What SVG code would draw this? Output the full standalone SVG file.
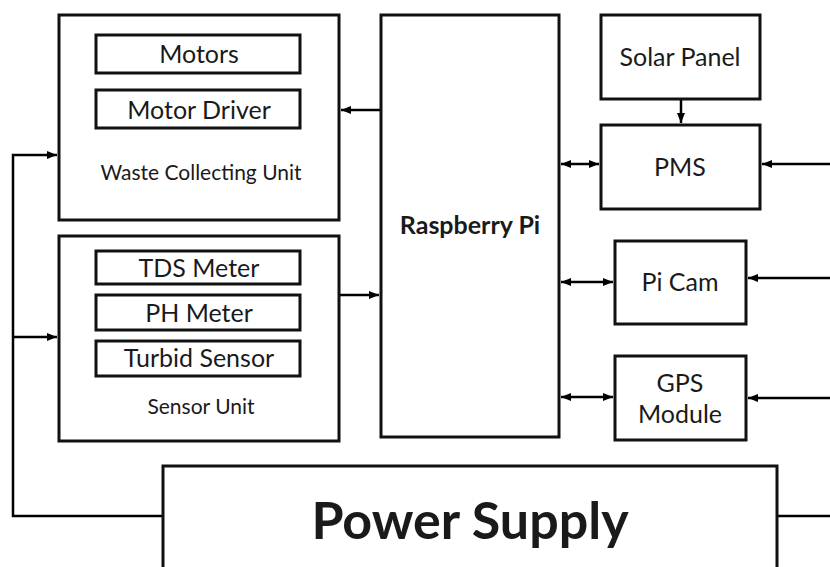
<svg xmlns="http://www.w3.org/2000/svg" width="830" height="567" viewBox="0 0 830 567">
<defs>
<marker id="ah" viewBox="0 0 10 10" refX="10" refY="5" markerWidth="10" markerHeight="10" markerUnits="userSpaceOnUse" orient="auto-start-reverse"><path d="M0,1 L10,5 L0,9 Z" fill="#000"/></marker>
</defs>
<style>
.box{fill:#fff;stroke:#111;stroke-width:3}
.t{font-family:Lato,"Open Sans","Liberation Sans",sans-serif;fill:#1a1a1a;text-anchor:middle}
.l{font-size:25px}
.s{font-size:21px}
.c{fill:none;stroke:#000;stroke-width:2.5}
</style>
<rect width="830" height="567" fill="#fff"/>
<g id="connectors">
<path class="c" d="M163,516 H13 V155 H57" marker-end="url(#ah)"/>
<path class="c" d="M13,337 H57" marker-end="url(#ah)"/>
<path class="c" d="M380,110 H341" marker-end="url(#ah)"/>
<path class="c" d="M340,295 H379" marker-end="url(#ah)"/>
<path class="c" d="M681,100 V123" marker-end="url(#ah)"/>
<path class="c" d="M561,164 H599" marker-start="url(#ah)" marker-end="url(#ah)"/>
<path class="c" d="M561,282 H613" marker-start="url(#ah)" marker-end="url(#ah)"/>
<path class="c" d="M561,397 H613" marker-start="url(#ah)" marker-end="url(#ah)"/>
<path class="c" d="M830,164 H762" marker-end="url(#ah)"/>
<path class="c" d="M830,278 H748" marker-end="url(#ah)"/>
<path class="c" d="M830,398 H748" marker-end="url(#ah)"/>
<path class="c" d="M777,516 H830"/>
</g>
<g id="waste-unit">
<rect class="box" x="59" y="15" width="280" height="205"/>
<text class="t s" x="201" y="180">Waste Collecting Unit</text>
</g>
<g id="motors">
<rect class="box" x="96" y="35" width="204" height="38"/>
<text class="t l" x="199" y="63">Motors</text>
</g>
<g id="motor-driver">
<rect class="box" x="96" y="90" width="204" height="38"/>
<text class="t l" x="199" y="119">Motor Driver</text>
</g>
<g id="sensor-unit">
<rect class="box" x="59" y="236" width="280" height="205"/>
<text class="t s" x="201" y="414">Sensor Unit</text>
</g>
<g id="tds">
<rect class="box" x="96" y="251" width="204" height="33"/>
<text class="t l" x="199" y="277">TDS Meter</text>
</g>
<g id="ph">
<rect class="box" x="96" y="295" width="204" height="35"/>
<text class="t l" x="199" y="322">PH Meter</text>
</g>
<g id="turbid">
<rect class="box" x="96" y="341" width="204" height="35"/>
<text class="t l" x="199" y="367">Turbid Sensor</text>
</g>
<g id="raspberry-pi">
<rect class="box" x="381" y="15" width="178" height="422"/>
<text class="t" x="470" y="234" font-size="25" font-weight="bold">Raspberry Pi</text>
</g>
<g id="solar-panel">
<rect class="box" x="601" y="15" width="159" height="84"/>
<text class="t l" x="680" y="66">Solar Panel</text>
</g>
<g id="pms">
<rect class="box" x="601" y="125" width="159" height="84"/>
<text class="t l" x="680" y="176">PMS</text>
</g>
<g id="pi-cam">
<rect class="box" x="615" y="241" width="131" height="83"/>
<text class="t l" x="680" y="291">Pi Cam</text>
</g>
<g id="gps">
<rect class="box" x="615" y="356" width="131" height="84"/>
<text class="t l" x="680" y="392">GPS</text>
<text class="t l" x="680" y="423">Module</text>
</g>
<g id="power-supply">
<rect class="box" x="163" y="466" width="614" height="110"/>
<text class="t" x="470" y="539" font-size="52" font-weight="bold" fill="#000">Power Supply</text>
</g>
</svg>
